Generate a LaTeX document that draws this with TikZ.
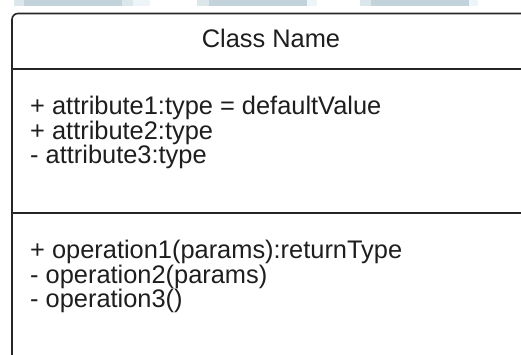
\documentclass[tikz,border=0pt]{standalone}
\usepackage{fontspec}
\setmainfont{Liberation Sans}
\definecolor{strip}{HTML}{C2D3DB}
\definecolor{stripedge}{HTML}{DCE7EC}
\definecolor{stripfade}{HTML}{EEF5F8}
\definecolor{ink}{HTML}{1E1E1E}
\begin{document}
\begin{tikzpicture}[x=1pt,y=-1pt,
  umltext/.style={inner sep=0pt,text=ink,font=\fontsize{25.4}{25}\selectfont},
  member/.style={umltext,anchor=base west},
  frame/.style={draw=black!85,line width=1.6pt}]
\useasboundingbox (0,0) rectangle (521,354);
\clip (0,0) rectangle (521,354);
\fill[white] (0,0) rectangle (521,354);

% strips along the top edge
\fill[stripfade] (133,0) rectangle (150,6);
\fill[stripedge] (14,0) rectangle (24,6);
\fill[strip] (24,0) rectangle (122,6);
\fill[stripedge] (122,0) rectangle (133,6);
\fill[stripedge] (197,0) rectangle (209,6);
\fill[strip] (209,0) rectangle (307,6);
\fill[stripfade] (307,0) rectangle (317,6);
\fill[stripedge] (360,0) rectangle (371,6);
\fill[strip] (371,0) rectangle (469,6);
\fill[stripfade] (469,0) rectangle (478,6);

% class box with its compartments
\draw[frame,rounded corners=6pt] (540,13.5) -- (12,13.5) -- (12,380);
\draw[frame] (12,69) -- (540,69);
\draw[frame] (12,213) -- (540,213);

\node[umltext,anchor=base] (name) at (271,47) {Class Name};

\node[member] (a1) at (30,114) {+ attribute1:type = defaultValue};
\node[member] (a2) at (30,139) {+ attribute2:type};
\node[member] (a3) at (30,163) {- attribute3:type};

\node[member] (o1) at (30,258) {+ operation1(params):returnType};
\node[member] (o2) at (30,283) {- operation2(params)};
\node[member] (o3) at (30,307) {- operation3()};
\end{tikzpicture}
\end{document}
